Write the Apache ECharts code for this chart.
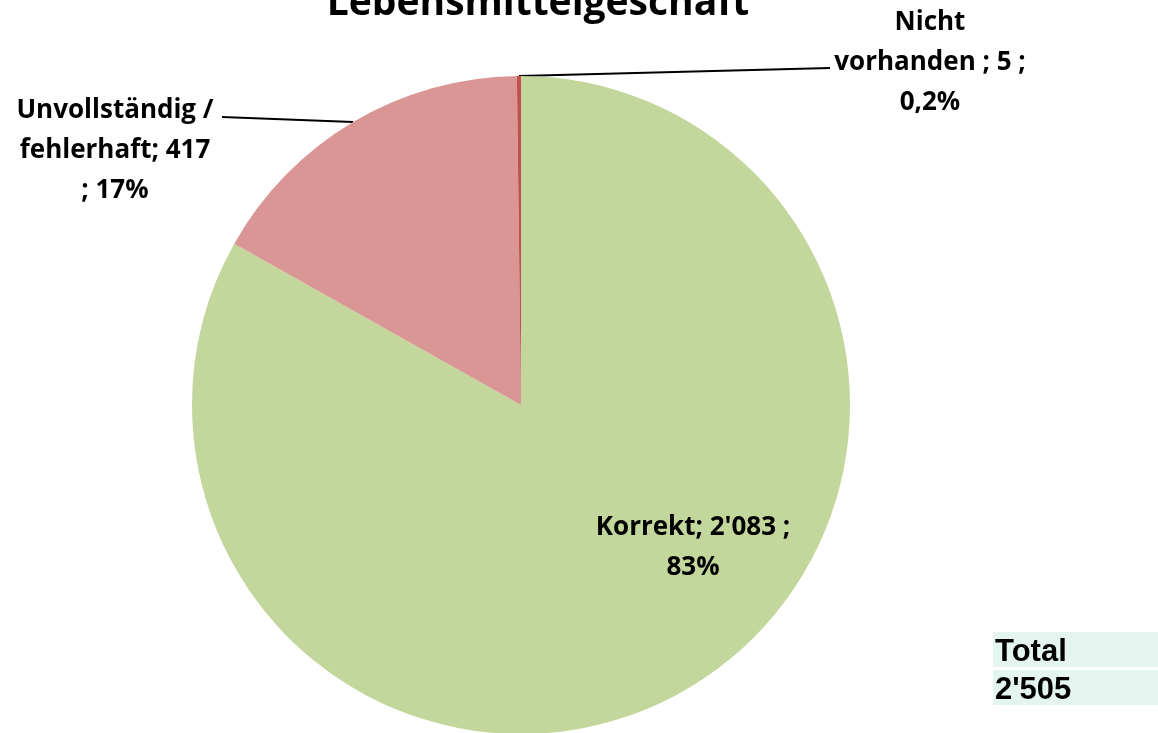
<!DOCTYPE html>
<html><head><meta charset="utf-8">
<script src="https://cdn.jsdelivr.net/npm/echarts@6/dist/echarts.min.js"></script>
<style>html,body{margin:0;padding:0;background:#fff}#c{width:1158px;height:733px}</style>
</head><body><div id="c"></div>
<script>
const titleText = 'Lebensmittelgeschäft';
const categories = ['Korrekt', 'Unvollständig / fehlerhaft', 'Nicht vorhanden'];
const values = [2083, 417, 5];
const labelTexts = ['Korrekt; 2\'083 ;\n83%', 'Unvollständig /\nfehlerhaft; 417\n; 17%', 'Nicht\nvorhanden ; 5 ;\n0,2%'];
const colors = ['#C3D69B', '#D99694', '#C0504D'];
const totalLabel = 'Total';
const totalValue = '2\'505';

const FONT = '"Open Sans"';
const chart = echarts.init(document.getElementById('c'));
const labelPos = [{x: 693, y: 548}, {x: 115, y: 151}, {x: 930, y: 63}];
// where the leader line meets each label, relative to the label centre
const lineEnd = [null, [107, -34], [-100, 5]];
chart.setOption({
  animation: false,
  graphic: [
    {type: 'text', x: 538, y: 4, style: {text: titleText, font: 'bold 39px ' + FONT, fill: '#000', align: 'center', verticalAlign: 'middle'}},
    {type: 'rect', shape: {x: 993, y: 632, width: 165, height: 35}, style: {fill: '#E4F4EE'}},
    {type: 'rect', shape: {x: 993, y: 670, width: 165, height: 35}, style: {fill: '#E4F4EE'}},
    {type: 'text', x: 995, y: 652, style: {text: totalLabel, font: 'bold 31px "Liberation Sans"', fill: '#000', verticalAlign: 'middle'}},
    {type: 'text', x: 995, y: 690, style: {text: totalValue, font: 'bold 31px "Liberation Sans"', fill: '#000', verticalAlign: 'middle'}}
  ],
  series: [{
    type: 'pie',
    center: [521, 405],
    radius: 329,
    startAngle: 90,
    clockwise: true,
    data: categories.map((n, i) => ({
      name: n, value: values[i],
      itemStyle: {color: colors[i]},
      label: i === 0 ? {position: 'inside'} : {position: 'outside'},
      labelLine: {show: i !== 0, length: 20, length2: 20, lineStyle: {color: '#000', width: 2}}
    })),
    label: {
      formatter: p => labelTexts[p.dataIndex],
      fontFamily: 'Open Sans', fontWeight: 'bold', fontSize: 26, lineHeight: 40,
      color: '#000', align: 'center'
    },
    labelLayout: function (p) {
      const i = p.dataIndex;
      const lp = labelPos[i];
      const res = {x: lp.x, y: lp.y, align: 'center', verticalAlign: 'middle'};
      if (lineEnd[i] && p.labelLinePoints) {
        const s = p.labelLinePoints[0];
        const e = [lp.x + lineEnd[i][0], lp.y + lineEnd[i][1]];
        res.labelLinePoints = [s, e, e];
      }
      return res;
    }
  }]
});
</script></body></html>
